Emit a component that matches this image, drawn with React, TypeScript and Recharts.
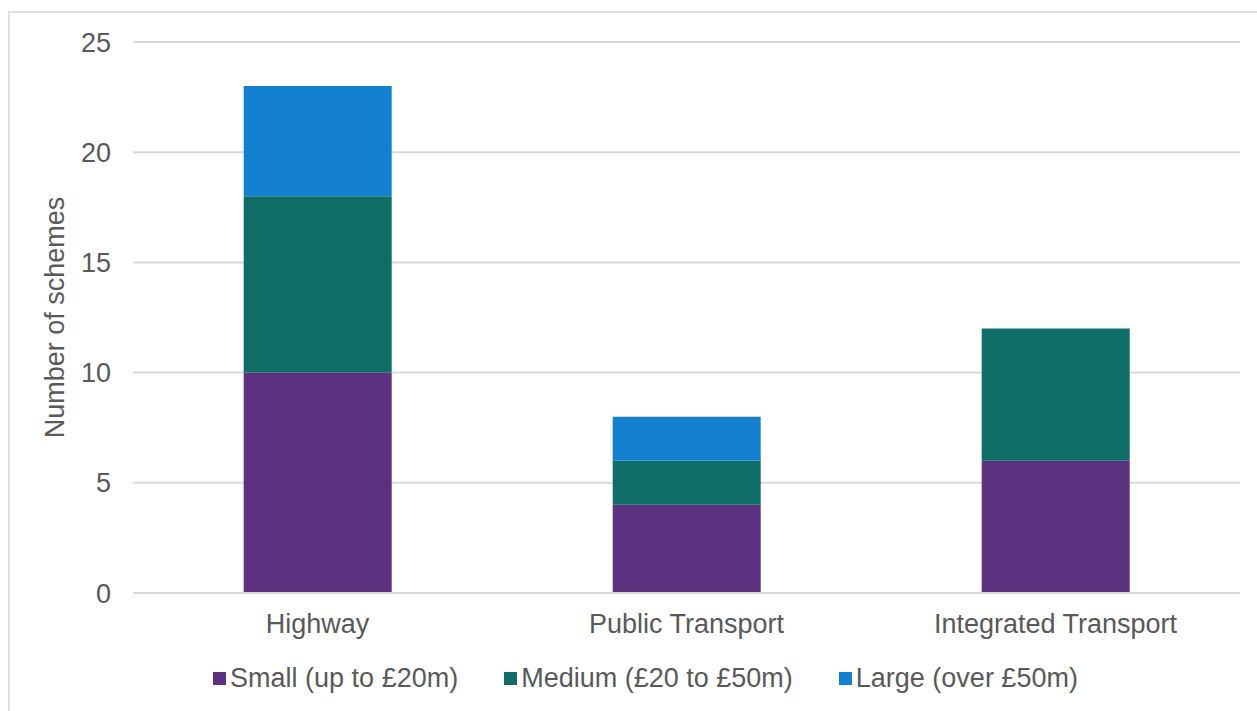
import { Bar, BarChart, CartesianGrid, Legend, XAxis, YAxis } from "recharts";

const categories = ["Highway", "Public Transport", "Integrated Transport"];
const small = [10, 4, 6];
const medium = [8, 2, 6];
const large = [5, 2, 0];
const yTicks = [0, 5, 10, 15, 20, 25];

const seriesList = [
  { key: "small", name: "Small (up to £20m)", color: "#5c3280" },
  { key: "medium", name: "Medium (£20 to £50m)", color: "#0f6d67" },
  { key: "large", name: "Large (over £50m)", color: "#1481d0" },
];

const chartData = categories.map((name, i) => ({
  name,
  small: small[i],
  medium: medium[i],
  large: large[i],
}));

const textColor = "#595959";
const fontFamily = "'Liberation Sans', Arial, sans-serif";
const fontSize = 27;

function LegendRow() {
  return (
    <div
      style={{
        display: "flex",
        justifyContent: "center",
        fontFamily,
        fontSize,
        color: textColor,
        paddingTop: 10,
        paddingLeft: 50,
      }}
    >
      {seriesList.map((s, i) => (
        <div key={s.key} style={{ display: "flex", alignItems: "center", marginLeft: i === 0 ? 0 : 46 }}>
          <span style={{ width: 13, height: 13, background: s.color, marginRight: 4, display: "inline-block" }} />
          <span>{s.name}</span>
        </div>
      ))}
    </div>
  );
}

export default function App() {
  return (
    <div style={{ position: "absolute", left: 0, top: 0, width: 1257, height: 711, overflow: "hidden", background: "#fff" }}>
      <div
        style={{
          position: "absolute",
          left: 8,
          top: 11,
          width: 1300,
          height: 800,
          borderLeft: "2px solid #e0e0e0",
          borderTop: "2px solid #e0e0e0",
        }}
      />
      <BarChart
        width={1257}
        height={711}
        data={chartData}
        margin={{ top: 42, right: 17, left: 1, bottom: 0 }}
        barCategoryGap="30%"
        style={{ position: "absolute", left: 0, top: 0 }}
      >
        <CartesianGrid vertical={false} stroke="#d9d9d9" strokeWidth={2} />
        <XAxis
          dataKey="name"
          height={60}
          axisLine={{ stroke: "#d9d9d9", strokeWidth: 2 }}
          tickLine={false}
          tickSize={0}
          tickMargin={21}
          tick={{ fill: textColor, fontSize, fontFamily }}
        />
        <YAxis
          width={132}
          domain={[0, 25]}
          ticks={yTicks}
          axisLine={false}
          tickLine={false}
          tickSize={0}
          tickMargin={22}
          tick={{ fill: textColor, fontSize, fontFamily }}
          label={{
            value: "Number of schemes",
            angle: -90,
            position: "insideLeft",
            dx: 48,
            dy: 0,
            style: { textAnchor: "middle", fill: textColor, fontSize, fontFamily },
          }}
        />
        <Legend verticalAlign="bottom" height={58} content={() => <LegendRow />} />
        {seriesList.map((s) => (
          <Bar key={s.key} dataKey={s.key} name={s.name} stackId="a" fill={s.color} isAnimationActive={false} />
        ))}
      </BarChart>
    </div>
  );
}
